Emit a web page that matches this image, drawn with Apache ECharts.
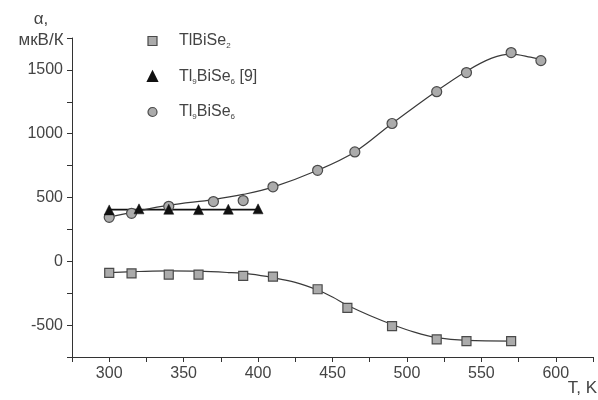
<!DOCTYPE html>
<html><head><meta charset="utf-8">
<script src="https://cdn.jsdelivr.net/npm/echarts@6/dist/echarts.min.js"></script>
<style>html,body{margin:0;padding:0;background:#fff}#c{width:598px;height:400px}</style>
</head><body><div id="c"></div>
<script>
// TlBiSe2 (squares)
const tSq = [300, 315, 340, 360, 390, 410, 440, 460, 490, 520, 540, 570];
const aSq = [-90, -95, -105, -105, -115, -120, -219, -365, -508, -612, -626, -626];
// Tl9BiSe6 [9] (triangles)
const tTri = [300, 320, 340, 360, 380, 400];
const aTri = [403, 411, 408, 405, 408, 411];
// Tl9BiSe6 (circles)
const tCi = [300, 315, 340, 370, 390, 410, 440, 465, 490, 520, 540, 570, 590];
const aCi = [345, 376, 431, 468, 476, 584, 713, 857, 1080, 1329, 1479, 1636, 1573];
// fitted curves
const tFitSq = [300, 320, 340, 360, 380, 395, 410, 425, 440, 450, 460, 475, 490, 505, 520, 540, 570];
const aFitSq = [-88, -80, -75, -77, -88, -101, -128, -165, -225, -280, -345, -425, -495, -555, -598, -620, -625];
const tFitTri = [300, 400];
const aFitTri = [405, 405];
const tFitCi = [300, 315, 340, 370, 390, 410, 440, 465, 490, 520, 540, 557, 570, 583, 590];
const aFitCi = [345, 383, 440, 484, 524, 581, 713, 857, 1080, 1335, 1490, 1592, 1624, 1600, 1580];
// axis tick labels
const xLabels = [300, 350, 400, 450, 500, 550, 600];
const yLabels = [-500, 0, 500, 1000, 1500];

const names = ['TlBiSe2', 'Tl9BiSe6 [9]', 'Tl9BiSe6'];
const richNames = {
  'TlBiSe2': 'TlBiSe{s|2}',
  'Tl9BiSe6 [9]': 'Tl{s|9}BiSe{s|6} [9]',
  'Tl9BiSe6': 'Tl{s|9}BiSe{s|6}'
};
const zip = (a, b) => a.map((v, i) => [v, b[i]]);
const font = '"Liberation Sans", Arial, sans-serif';
const mkFill = '#ababab', mkBorder = '#4a4a4a', lineCol = '#3a3a3a';

const chart = echarts.init(document.getElementById('c'), null, {renderer: 'canvas'});
chart.setOption({
  animation: false,
  backgroundColor: '#fff',
  grid: {left: 72, right: 5, top: 38, bottom: 43, containLabel: false},
  legend: {
    data: [
      {name: names[0], icon: 'rect', itemStyle: {color: mkFill, borderColor: mkBorder, borderWidth: 1.2}},
      {name: names[1], icon: 'triangle', itemStyle: {color: '#111'}},
      {name: names[2], icon: 'circle', itemStyle: {color: mkFill, borderColor: mkBorder, borderWidth: 1.2}}
    ],
    orient: 'vertical',
    left: 142, top: 27,
    itemWidth: 9, itemHeight: 9, itemGap: 17.5,
    formatter: n => richNames[n],
    textStyle: {
      fontFamily: font, fontSize: 16, color: '#444', lineHeight: 18, padding: [0, 0, 0, 17],
      rich: {s: {fontFamily: font, fontSize: 8, lineHeight: 9, verticalAlign: 'bottom', color: '#444'}}
    }
  },
  xAxis: {
    type: 'value', min: 275, max: 625, interval: 25,
    axisLine: {onZero: false, lineStyle: {color: '#333', width: 1}},
    axisTick: {show: true, length: 5, lineStyle: {color: '#333'}},
    splitLine: {show: false},
    axisLabel: {
      margin: 9, fontFamily: font, fontSize: 16, color: '#444',
      formatter: v => xLabels.includes(v) ? String(v) : ''
    }
  },
  yAxis: {
    type: 'value', min: -750, max: 1750, interval: 250,
    axisLine: {show: true, onZero: false, lineStyle: {color: '#333', width: 1}},
    axisTick: {show: true, length: 5, lineStyle: {color: '#333'}},
    splitLine: {show: false},
    axisLabel: {
      margin: 9, fontFamily: font, fontSize: 16, color: '#444',
      formatter: v => yLabels.includes(v) ? String(v) : ''
    }
  },
  graphic: [
    {type: 'text', x: 41, y: 9, style: {text: 'α,\nмкВ/К', font: '17px ' + font, fill: '#444', align: 'center', verticalAlign: 'top', lineHeight: 21}},
    {type: 'text', x: 597, y: 380, style: {text: 'T, K', font: '17px ' + font, fill: '#444', align: 'right', verticalAlign: 'top'}}
  ],
  series: [
    {name: 'fitSq', type: 'line', data: zip(tFitSq, aFitSq), smooth: 0.35, showSymbol: false, silent: true,
      lineStyle: {color: lineCol, width: 1.2}, z: 1},
    {name: 'fitTri', type: 'line', data: zip(tFitTri, aFitTri), showSymbol: false, silent: true,
      lineStyle: {color: '#111', width: 1.6}, z: 1},
    {name: 'fitCi', type: 'line', data: zip(tFitCi, aFitCi), smooth: 0.35, showSymbol: false, silent: true,
      lineStyle: {color: lineCol, width: 1.2}, z: 1},
    {name: 'TlBiSe2', type: 'scatter', data: zip(tSq, aSq), symbol: 'rect', symbolSize: 9,
      itemStyle: {color: mkFill, borderColor: mkBorder, borderWidth: 1.2, opacity: 1}, z: 3},
    {name: 'Tl9BiSe6 [9]', type: 'scatter', data: zip(tTri, aTri), symbol: 'triangle', symbolSize: 10,
      itemStyle: {color: '#111', borderColor: '#111', borderWidth: 0.5, opacity: 1}, z: 4},
    {name: 'Tl9BiSe6', type: 'scatter', data: zip(tCi, aCi), symbol: 'circle', symbolSize: 10,
      itemStyle: {color: mkFill, borderColor: mkBorder, borderWidth: 1.2, opacity: 1}, z: 3}
  ]
});
</script></body></html>
